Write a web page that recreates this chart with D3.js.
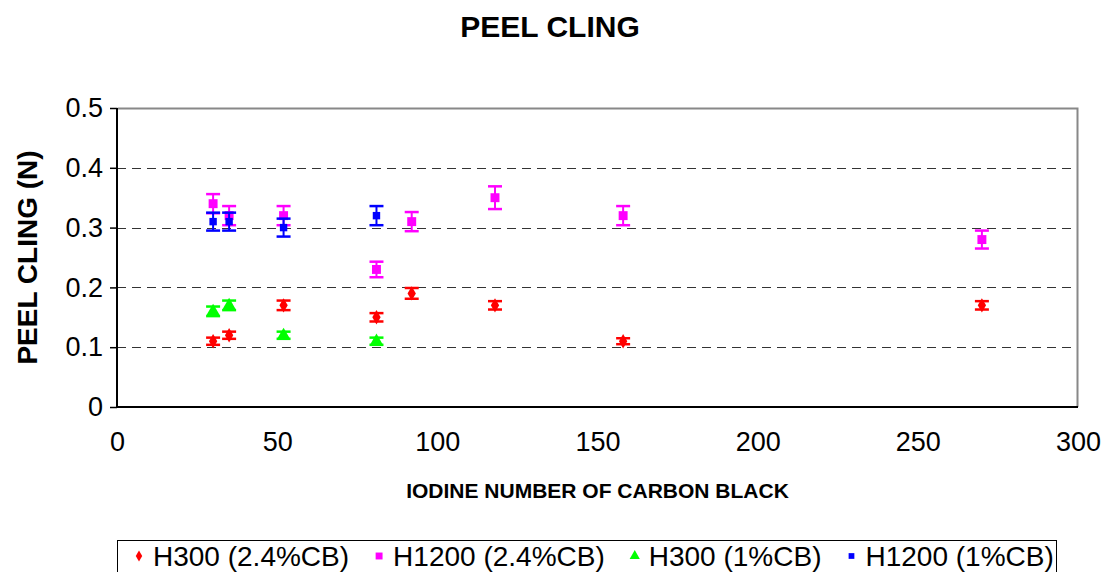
<!DOCTYPE html>
<html>
<head>
<meta charset="utf-8">
<script src="https://cdn.jsdelivr.net/npm/d3@7"></script>
<style>
  body { margin: 0; background: #fff; }
  text { font-family: "Liberation Sans", Arial, sans-serif; }
</style>
</head>
<body>
<div id="chart"></div>
<script>
// data
var seriesNames = ["H300 (2.4%CB)", "H1200 (2.4%CB)", "H300 (1%CB)", "H1200 (1%CB)"];

var h300x = [30, 35, 52, 81, 92, 118, 158, 270];
var h300y = [0.11, 0.12, 0.17, 0.15, 0.19, 0.17, 0.11, 0.17];
var h300err = [0.006, 0.006, 0.008, 0.007, 0.009, 0.007, 0.005, 0.007];

var h1200x = [30, 35, 52, 81, 92, 118, 158, 270];
var h1200y = [0.34, 0.32, 0.32, 0.23, 0.31, 0.35, 0.32, 0.28];
var h1200err = [0.016, 0.016, 0.016, 0.013, 0.016, 0.019, 0.016, 0.015];

var h300lowx = [30, 35, 52, 81];
var h300lowy = [0.16, 0.17, 0.12, 0.11];
var h300lowerr = [0.008, 0.008, 0.006, 0.006];

var h1200lowx = [30, 35, 52, 81];
var h1200lowy = [0.31, 0.31, 0.30, 0.32];
var h1200lowerr = [0.015, 0.015, 0.015, 0.016];

var xTicks = [0, 50, 100, 150, 200, 250, 300];
var yTicks = [0, 0.1, 0.2, 0.3, 0.4, 0.5];

var svgWidth = 1104;
var svgHeight = 572;
var margin = { top: 108, right: 26, bottom: 165, left: 117 };
var width = svgWidth - margin.left - margin.right;
var height = svgHeight - margin.top - margin.bottom;

var svg = d3.select("#chart")
    .append("svg")
    .attr("width", svgWidth)
    .attr("height", svgHeight);

var chartGroup = svg.append("g")
    .attr("transform", `translate(${margin.left}, ${margin.top})`);

var xScale = d3.scaleLinear().domain([0, 300]).range([0, width]);
var yScale = d3.scaleLinear().domain([0, 0.5]).range([height, 0]);

// series table built from the arrays
var series = [
    { name: seriesNames[0], xs: h300x, ys: h300y, errs: h300err, color: "#ff0000", shape: d3.symbolDiamond, size: 60, cap: 14 },
    { name: seriesNames[1], xs: h1200x, ys: h1200y, errs: h1200err, color: "#ff00ff", shape: d3.symbolSquare, size: 80, cap: 14 },
    { name: seriesNames[2], xs: h300lowx, ys: h300lowy, errs: h300lowerr, color: "#00ff00", shape: d3.symbolTriangle, size: 75, cap: 14 },
    { name: seriesNames[3], xs: h1200lowx, ys: h1200lowy, errs: h1200lowerr, color: "#0000ff", shape: d3.symbolSquare, size: 55, cap: 14 }
];

// gridlines
chartGroup.selectAll(".grid")
    .data(yTicks.filter(t => t > 0 && t < 0.5))
    .enter()
    .append("line")
    .attr("x1", 0)
    .attr("x2", width)
    .attr("y1", d => Math.round(yScale(d)) + 0.5)
    .attr("y2", d => Math.round(yScale(d)) + 0.5)
    .attr("stroke", "#333")
    .attr("stroke-dasharray", "9,6");

// frame: top and right in gray
chartGroup.append("path")
    .attr("d", `M0.5,0.5H${width - 0.5}V${height}`)
    .attr("fill", "none")
    .attr("stroke", "#888")
    .attr("stroke-width", 2);

// axes
var leftAxis = d3.axisLeft(yScale)
    .tickValues(yTicks)
    .tickSize(7)
    .tickPadding(7)
    .tickFormat(d => d === 0 ? "0" : d3.format(".1f")(d));

var bottomAxis = d3.axisBottom(xScale)
    .tickValues(xTicks)
    .tickSize(0)
    .tickPadding(25)
    .tickFormat(d3.format("d"));

var yAxisG = chartGroup.append("g").call(leftAxis);
var xAxisG = chartGroup.append("g")
    .attr("transform", `translate(0, ${height})`)
    .call(bottomAxis);

[yAxisG, xAxisG].forEach(g => {
    g.select(".domain").attr("stroke", "#000").attr("stroke-width", 2);
    g.selectAll(".tick line").attr("stroke", "#000").attr("stroke-width", 1.5);
    g.selectAll(".tick text")
        .attr("fill", "#000")
        .style("font-size", "27px")
        .style("font-family", "'Liberation Sans', Arial, sans-serif");
});
xAxisG.select(".domain").attr("d", `M0,0H${width}`);
yAxisG.select(".domain").attr("d", `M0,0V${height}`);

// error bars and markers
series.forEach(s => {
    var pts = s.xs.map((x, i) => ({ x: x, y: s.ys[i], e: s.errs[i] }));
    var g = chartGroup.append("g");

    g.selectAll(".stem")
        .data(pts)
        .enter()
        .append("line")
        .attr("x1", d => xScale(d.x))
        .attr("x2", d => xScale(d.x))
        .attr("y1", d => yScale(d.y - d.e))
        .attr("y2", d => yScale(d.y + d.e))
        .attr("stroke", s.color)
        .attr("stroke-width", 2);

    [-1, 1].forEach(sign => {
        g.selectAll(".cap" + sign)
            .data(pts)
            .enter()
            .append("line")
            .attr("x1", d => xScale(d.x) - s.cap / 2)
            .attr("x2", d => xScale(d.x) + s.cap / 2)
            .attr("y1", d => yScale(d.y + sign * d.e))
            .attr("y2", d => yScale(d.y + sign * d.e))
            .attr("stroke", s.color)
            .attr("stroke-width", 2.5);
    });

    g.selectAll("path.mark")
        .data(pts)
        .enter()
        .append("path")
        .attr("class", "mark")
        .attr("d", d3.symbol().type(s.shape).size(s.size))
        .attr("transform", d => `translate(${xScale(d.x)}, ${yScale(d.y)})`)
        .attr("fill", s.color);
});

// titles
svg.append("text")
    .attr("x", 550)
    .attr("y", 37)
    .attr("text-anchor", "middle")
    .style("font-size", "30px")
    .style("font-weight", "bold")
    .text("PEEL CLING");

svg.append("text")
    .attr("transform", `translate(37, ${margin.top + height / 2}) rotate(-90)`)
    .attr("text-anchor", "middle")
    .style("font-size", "28px")
    .style("font-weight", "bold")
    .text("PEEL CLING (N)");

svg.append("text")
    .attr("x", margin.left + width / 2)
    .attr("y", 498)
    .attr("text-anchor", "middle")
    .style("font-size", "21px")
    .style("font-weight", "bold")
    .text("IODINE NUMBER OF CARBON BLACK");

// legend
var legend = svg.append("g");
legend.append("rect")
    .attr("x", 117.5)
    .attr("y", 540.5)
    .attr("width", 939)
    .attr("height", 40)
    .attr("fill", "#fff")
    .attr("stroke", "#000")
    .attr("stroke-width", 1);

var cursor = 139;
series.forEach(s => {
    legend.append("path")
        .attr("d", d3.symbol().type(s.shape).size(s.size * 0.6))
        .attr("transform", `translate(${cursor}, 556)`)
        .attr("fill", s.color);
    var t = legend.append("text")
        .attr("x", cursor + 14)
        .attr("y", 566)
        .style("font-size", "28px")
        .text(s.name);
    cursor += 14 + t.node().getComputedTextLength() + 30;
});
</script>
</body>
</html>
